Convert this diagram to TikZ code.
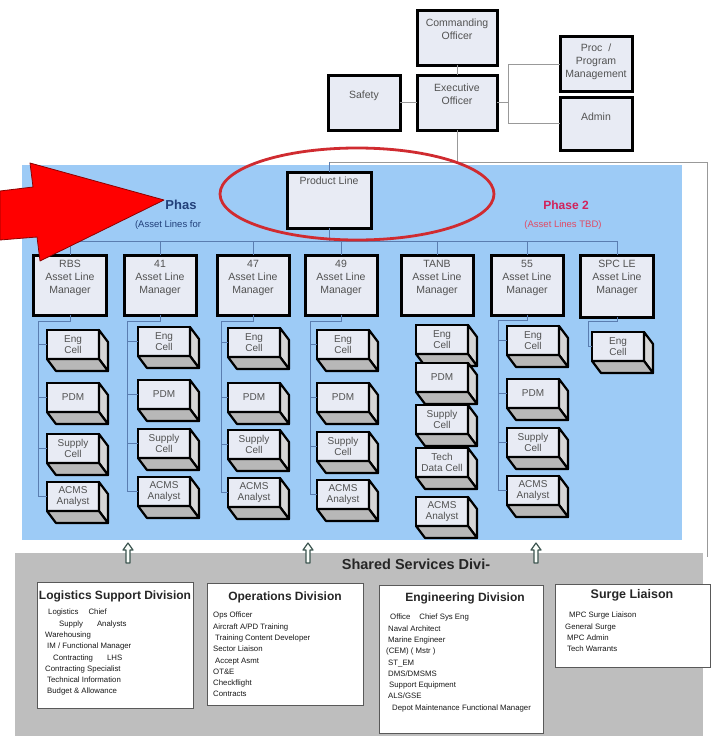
\documentclass[tikz,border=0pt]{standalone}
\usepackage{fontspec}
\setmainfont{Liberation Sans}
\usetikzlibrary{calc}

\definecolor{boxfill}{HTML}{E8EBF4}
\definecolor{panelblue}{HTML}{9DCBF6}
\definecolor{sharedgrey}{HTML}{BEBEBE}
\definecolor{linkblue}{HTML}{5A7DB0}
\definecolor{navytext}{HTML}{22407A}
\definecolor{phasered}{HTML}{D2215A}
\definecolor{phasepink}{HTML}{E04A64}
\definecolor{ovalred}{HTML}{D02B30}
\definecolor{arrowgreen}{HTML}{3D5550}

\tikzset{
  orgbox/.style={draw=black, line width=3pt, fill=boxfill, inner sep=0pt, outer sep=0pt},
  orgtext/.style={align=center, inner sep=0pt, text=black!68, font=\fontsize{10.5}{13}\selectfont},
  cellface/.style={draw=black, line width=2.2pt, fill=boxfill, inner sep=1pt, outer sep=0pt,
    minimum width=52pt, minimum height=29pt, align=center, text=black!68,
    font=\fontsize{10}{11.5}\selectfont},
  cellside/.style={draw=black, line width=2.2pt, fill=black!16, line join=round},
  cellbottom/.style={draw=black, line width=2.2pt, fill=black!28, line join=round},
  link/.style={draw=linkblue, line width=0.6pt},
  toplink/.style={draw=black!40, line width=0.7pt},
  divbox/.style={draw=black!65, line width=1pt, fill=white, inner sep=0pt, outer sep=0pt, anchor=north west},
  divtitle/.style={inner sep=0pt, font=\bfseries\fontsize{12}{14}\selectfont, text=black!85},
  divtext/.style={anchor=north west, align=left, inner sep=0pt, text=black!90,
    font=\fontsize{7.8}{11.3}\selectfont},
  uparrow/.style={fill=white!85!green!10, draw=arrowgreen, line width=1.2pt, line join=round},
}

% box with its text set near the top edge
\newcommand\orgnode[7]{%
  \node[orgbox, minimum width=#4pt, minimum height=#5pt] (#1) at (#2,#3) {};
  \node[orgtext, anchor=north] (#1-text) at ([yshift=-#6pt]#1.north) {#7};
}
% three-dimensional cell: front face plus right and bottom faces
\newcommand\cellnode[4]{%
  \node[cellface, anchor=north west] (#1) at (#2,#3) {#4};
  \draw[cellside] (#1.north east) -- ++(9,12) -- ++(0,29) -- (#1.south east) -- cycle;
  \draw[cellbottom] (#1.south west) -- (#1.south east) -- ++(9,12) -- ++(-52,0) -- cycle;
}

\begin{document}
\begin{tikzpicture}[x=1pt, y=-1pt]
\useasboundingbox (0,0) rectangle (712,736);
\fill[white] (0,0) rectangle (712,736);

% shared services band and product-line panel
\fill[sharedgrey] (15,553) rectangle (703,736);
\coordinate (frame-tl) at (329,162);
\coordinate (frame-tr) at (707,162);
\coordinate (frame-br) at (707,557);
\draw[toplink] (frame-tl) -- (frame-tr) -- (frame-br);
\fill[panelblue] (22,165) rectangle (682,540);

% command level
\orgnode{co}{457}{37.5}{80}{55}{9}{Commanding\\Officer}
\orgnode{eo}{457}{102.5}{80}{55}{9}{Executive\\Officer}
\orgnode{safety}{364}{102.5}{72}{55}{16}{Safety}
\orgnode{proc}{596}{64}{72}{55}{7}{Proc \ /\\Program\\Management}
\orgnode{admin}{596}{123.5}{72}{53}{16}{Admin}

\coordinate (staff-top) at (508,64);
\coordinate (staff-mid) at (508,102.5);
\coordinate (staff-bot) at (508,123.5);
\coordinate (eo-drop) at (457,162);
\draw[toplink] (co.south) -- (eo.north);
\draw[toplink] (safety.east) -- (eo.west);
\draw[toplink] (eo.east) -- (staff-mid);
\draw[toplink] (proc.west) -- (staff-top) -- (staff-bot) -- (admin.west);
\draw[toplink] (eo.south) -- (eo-drop);

% product line
\orgnode{pl}{329}{200}{84}{56}{5}{Product Line}
\draw[link] (pl.north) -- (frame-tl);

% phase headings
\node[inner sep=0pt, text=navytext, font=\bfseries\fontsize{13}{15}\selectfont] (ph1) at (181,205) {Phas};
\node[inner sep=0pt, text=navytext, font=\fontsize{9.5}{11}\selectfont] (ph1-sub) at (168,225) {(Asset Lines for};
\node[inner sep=0pt, text=phasered, font=\bfseries\fontsize{12}{14}\selectfont] (ph2) at (566,205) {Phase 2};
\node[inner sep=0pt, text=phasepink, font=\fontsize{9.5}{11}\selectfont] (ph2-sub) at (563,225) {(Asset Lines TBD)};

% asset line managers
\orgnode{rbs}{70}{285}{73}{60}{5}{RBS\\Asset Line\\Manager}
\orgnode{m41}{160}{285}{72}{60}{5}{41\\Asset Line\\Manager}
\orgnode{m47}{253}{285}{72}{60}{5}{47\\Asset Line\\Manager}
\orgnode{m49}{341}{285}{72}{60}{5}{49\\Asset Line\\Manager}
\orgnode{tanb}{437}{285}{72}{60}{5}{TANB\\Asset Line\\Manager}
\orgnode{m55}{527}{285}{72}{60}{5}{55\\Asset Line\\Manager}
\orgnode{spc}{617}{286}{73}{62}{5}{SPC LE\\Asset Line\\Manager}

\coordinate (bus-l) at (70,241);
\coordinate (bus-r) at (617,241);
\draw[link] (bus-l) -- (bus-r);
\draw[link] (pl.south) -- (pl.south |- bus-l);
\foreach \m in {rbs,m41,m47,m49,tanb,m55,spc}
  \draw[link] (\m.north) -- (\m.north |- bus-l);

% cells under each manager
\cellnode{rbs-e}{47}{330}{Eng\\Cell}
\cellnode{rbs-p}{47}{383}{PDM}
\cellnode{rbs-s}{47}{434}{Supply\\Cell}
\cellnode{rbs-a}{47}{482}{ACMS\\Analyst}

\cellnode{m41-e}{138}{327}{Eng\\Cell}
\cellnode{m41-p}{138}{380}{PDM}
\cellnode{m41-s}{138}{429}{Supply\\Cell}
\cellnode{m41-a}{138}{477}{ACMS\\Analyst}

\cellnode{m47-e}{228}{328}{Eng\\Cell}
\cellnode{m47-p}{228}{383}{PDM}
\cellnode{m47-s}{228}{430}{Supply\\Cell}
\cellnode{m47-a}{228}{478}{ACMS\\Analyst}

\cellnode{m49-e}{317}{330}{Eng\\Cell}
\cellnode{m49-p}{317}{383}{PDM}
\cellnode{m49-s}{317}{432}{Supply\\Cell}
\cellnode{m49-a}{317}{480}{ACMS\\Analyst}

\cellnode{tanb-e}{416}{325}{Eng\\Cell}
\cellnode{tanb-p}{416}{363}{PDM}
\cellnode{tanb-s}{416}{405}{Supply\\Cell}
\cellnode{tanb-t}{416}{448}{Tech\\Data Cell}
\cellnode{tanb-a}{416}{497}{ACMS\\Analyst}

\cellnode{m55-e}{507}{326}{Eng\\Cell}
\cellnode{m55-p}{507}{379}{PDM}
\cellnode{m55-s}{507}{428}{Supply\\Cell}
\cellnode{m55-a}{507}{476}{ACMS\\Analyst}

\cellnode{spc-e}{592}{332}{Eng\\Cell}

% rails from managers to their cells
\coordinate (rbs-rail) at (38,321);
\coordinate (m41-rail) at (127,321);
\coordinate (m47-rail) at (221,321);
\coordinate (m49-rail) at (310,321);
\coordinate (m55-rail) at (498,320);
\coordinate (spc-rail) at (588,321);
\foreach \m in {rbs,m41,m47,m49,m55}{
  \draw[link] (\m.south) |- (\m-rail) |- (\m-a.west);
  \foreach \c in {e,p,s}
    \draw[link] (\m-\c.west) -- (\m-\c.west -| \m-rail);
}
\draw[link] (spc.south) |- (spc-rail) |- (spc-e.west);

% highlight oval and pointer arrow
\draw[ovalred, line width=2.8pt] (357,194) ellipse [x radius=137, y radius=46];
\fill[red, draw=red!55!black, line width=0.8pt, line join=round]
  (0,191) -- (33,187) -- (30,163) -- (164,200) -- (40,261) -- (37,237) -- (0,240) -- cycle;

% hollow arrows from the shared services
\foreach \ax in {128,308,536}
  \draw[uparrow] (\ax,543) -- (\ax+5,550) -- (\ax+2,550) -- (\ax+2,563)
    -- (\ax-2,563) -- (\ax-2,550) -- (\ax-5,550) -- cycle;
\node[inner sep=0pt, text=black!85, font=\bfseries\fontsize{14.5}{16}\selectfont] (shared) at (416,564) {Shared Services Divi-};

% divisions
\node[divbox, minimum width=156pt, minimum height=126pt] (lsd) at (37,582) {};
\node[divtitle] (lsd-title) at (115,596) {Logistics Support Division};
\node[divtext] (lsd-body) at (45,609) {%
  \hspace*{3pt}Logistics\hspace{10pt}Chief\\
  \hspace*{14pt}Supply\hspace{14pt}Analysts\\
  Warehousing\\
  \hspace*{2pt}IM / Functional Manager\\
  \hspace*{8pt}Contracting\hspace{14pt}LHS\\
  Contracting Specialist\\
  \hspace*{2pt}Technical Information\\
  \hspace*{2pt}Budget \& Allowance};

\node[divbox, minimum width=156pt, minimum height=122pt] (ops) at (207,583) {};
\node[divtitle] (ops-title) at (285,597) {Operations Division};
\node[divtext] (ops-body) at (213,612) {%
  Ops Officer\\
  Aircraft A/PD Training\\
  \hspace*{2pt}Training Content Developer\\
  Sector Liaison\\
  \hspace*{2pt}Accept Asmt\\
  OT\&E\\
  Checkflight\\
  Contracts};

\node[divbox, minimum width=164pt, minimum height=148pt] (eng) at (379,585) {};
\node[divtitle] (eng-title) at (465,598) {Engineering Division};
\node[divtext] (eng-body) at (386,614) {%
  \hspace*{4pt}Office\hspace{9pt}Chief Sys Eng\\
  \hspace*{2pt}Naval Architect\\
  \hspace*{2pt}Marine Engineer\\
  (CEM) (\ Mstr\ )\\
  \hspace*{2pt}ST\_EM\\
  \hspace*{2pt}DMS/DMSMS\\
  \hspace*{3pt}Support Equipment\\
  \hspace*{2pt}ALS/GSE\\
  \hspace*{6pt}Depot Maintenance Functional Manager};

\node[divbox, minimum width=155pt, minimum height=83pt] (surge) at (555,584) {};
\node[divtitle, font=\bfseries\fontsize{12.5}{14}\selectfont] (surge-title) at (632,595) {Surge Liaison};
\node[divtext] (surge-body) at (565,612) {%
  \hspace*{4pt}MPC Surge Liaison\\
  General Surge\\
  \hspace*{2pt}MPC Admin\\
  \hspace*{2pt}Tech Warrants};

\end{tikzpicture}
\end{document}
